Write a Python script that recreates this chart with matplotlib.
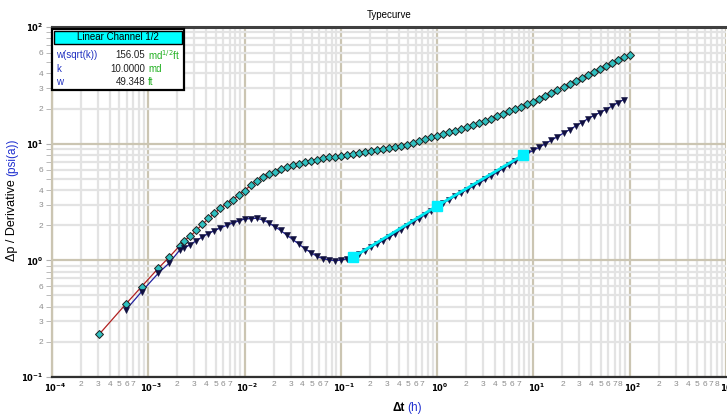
# -*- coding: utf-8 -*-
"""
Typecurve plot - pressure change and derivative vs elapsed time
with linear channel (half slope) fit line
"""
import numpy as np
import matplotlib.pyplot as plt
from matplotlib.patches import Rectangle
from matplotlib.ticker import FixedLocator, FuncFormatter
from matplotlib.transforms import ScaledTranslation

plt.rcParams['font.family'] = ['Liberation Sans', 'DejaVu Sans']

# =============================================================================
# data
# =============================================================================
# pressure change (delta p), psi(a)
dt_p = [3.10e-4, 5.86e-4, 8.53e-4, 1.27e-3, 1.64e-3, 2.13e-3,
        2.371e-3, 2.738e-3, 3.162e-3, 3.652e-3, 4.217e-3, 4.870e-3,
        5.623e-3, 6.494e-3, 7.499e-3, 8.660e-3,
        1.000e-2, 1.155e-2, 1.334e-2, 1.540e-2, 1.778e-2, 2.054e-2,
        2.371e-2, 2.738e-2, 3.162e-2, 3.652e-2, 4.217e-2, 4.870e-2,
        5.623e-2, 6.494e-2, 7.499e-2, 8.660e-2,
        0.1000, 0.1155, 0.1334, 0.1540, 0.1778, 0.2054, 0.2371, 0.2738,
        0.3162, 0.3652, 0.4217, 0.4870, 0.5623, 0.6494, 0.7499, 0.8660,
        1.000, 1.155, 1.334, 1.540, 1.778, 2.054, 2.371, 2.738,
        3.162, 3.652, 4.217, 4.870, 5.623, 6.494, 7.499, 8.660,
        10.00, 11.55, 13.34, 15.40, 17.78, 20.54, 23.71, 27.38,
        31.62, 36.52, 42.17, 48.70, 56.23, 64.94, 74.99, 86.60, 100.0]
dp = [0.233, 0.423, 0.596, 0.855, 1.06, 1.34,
      1.479, 1.611, 1.811, 2.037, 2.286, 2.529,
      2.799, 3.055, 3.311, 3.614,
      3.963, 4.385, 4.775, 5.129, 5.483, 5.768,
      6.067, 6.295, 6.531, 6.745, 6.950, 7.129,
      7.311, 7.482, 7.621, 7.745,
      7.870, 8.035, 8.185, 8.337, 8.472, 8.590, 8.750, 8.933,
      9.120, 9.333, 9.550, 9.772, 10.14, 10.50, 10.89, 11.35,
      11.70, 12.11, 12.50, 12.94, 13.40, 13.87, 14.39, 14.89,
      15.60, 16.33, 17.10, 17.95, 18.88, 19.77, 20.75, 21.73,
      22.96, 24.32, 25.82, 27.42, 29.04, 30.83, 32.66, 34.59,
      36.64, 38.82, 41.11, 43.55, 46.13, 48.87, 51.76, 54.83, 58.08]

# derivative, psi(a)
dt_d = [5.86e-4, 8.53e-4, 1.27e-3, 1.64e-3, 2.13e-3,
        2.371e-3, 2.738e-3, 3.162e-3, 3.652e-3, 4.217e-3, 4.870e-3,
        5.623e-3, 6.494e-3, 7.499e-3, 8.660e-3,
        1.000e-2, 1.155e-2, 1.334e-2, 1.540e-2, 1.778e-2, 2.054e-2,
        2.371e-2, 2.738e-2, 3.162e-2, 3.652e-2, 4.217e-2, 4.870e-2,
        5.623e-2, 6.494e-2, 7.499e-2, 8.660e-2,
        0.1000, 0.1155, 0.1334, 0.1540, 0.1778, 0.2054, 0.2371, 0.2738,
        0.3162, 0.3652, 0.4217, 0.4870, 0.5623, 0.6494, 0.7499, 0.8660,
        1.000, 1.155, 1.334, 1.540, 1.778, 2.054, 2.371, 2.738,
        3.162, 3.652, 4.217, 4.870, 5.623, 6.494, 7.499, 8.660,
        10.00, 11.55, 13.34, 15.40, 17.78, 20.54, 23.71, 27.38,
        31.62, 36.52, 42.17, 48.70, 56.23, 64.94, 74.99, 86.60]
deriv = [0.376, 0.539, 0.775, 0.944, 1.23,
         1.282, 1.361, 1.476, 1.589, 1.698, 1.799,
         1.897, 1.991, 2.084, 2.173,
         2.259, 2.280, 2.291, 2.223, 2.099, 1.945,
         1.803, 1.648, 1.510, 1.380, 1.262, 1.167,
         1.084, 1.033, 1.009, 0.995,
         1.005, 1.028, 1.064, 1.135, 1.213, 1.294, 1.380, 1.472,
         1.574, 1.694, 1.828, 1.977, 2.128, 2.280, 2.455, 2.655,
         2.871, 3.090, 3.304, 3.540, 3.784, 4.046, 4.325, 4.613,
         4.943, 5.309, 5.702, 6.124, 6.577, 7.079, 7.691, 8.241,
         8.770, 9.333, 10.00, 10.72, 11.48, 12.30, 13.18, 14.13,
         15.17, 16.29, 17.38, 18.41, 19.59, 20.89, 22.39, 23.88]

# linear channel (half slope) line points
dt_fit = [0.133, 0.995, 7.83]
fit = [1.06, 2.92, 8.00]

# box values
box_title = "Linear Channel 1/2"
box_names = ["w(sqrt(k))", "k", "w"]
box_values = ["156.05", "10.0000", "49.348"]
box_units = [r"md$^{1/2}$ft", "md", "ft"]

W, H = 727, 417
fig = plt.figure(figsize=(W / 100, H / 100), dpi=100)


def fx(px):
    return px / W


def fy(py):
    return 1 - py / H


ax = fig.add_axes([fx(52), fy(377), fx(726) - fx(52), fy(27) - fy(377)])
ax.set_xscale('log')
ax.set_yscale('log')
ax.set_xlim(1e-4, 1e3)
ax.set_ylim(1e-1, 1e2)

# grid lines
ax.grid(True, which='minor', color='#e3e3e3', lw=1.6, zorder=0)
ax.grid(True, which='major', color='#cbc5b2', lw=1.6, zorder=0)
ax.set_axisbelow(True)

# spines
ax.spines['top'].set_color('#404040')
ax.spines['top'].set_linewidth(2.2)
ax.spines['bottom'].set_color('#303030')
ax.spines['bottom'].set_linewidth(1.6)
ax.spines['left'].set_color('#cbc5b2')
ax.spines['left'].set_linewidth(1.6)
ax.spines['right'].set_visible(False)

# ticks and labels
xmaj = [10.0 ** e for e in range(-4, 4)]
xmin = [d * 10.0 ** e for e in range(-4, 3) for d in range(2, 10)]
ymaj = [10.0 ** e for e in range(-1, 3)]
ymin = [d * 10.0 ** e for e in range(-1, 2) for d in range(2, 10)]
ax.xaxis.set_major_locator(FixedLocator(xmaj))
ax.xaxis.set_minor_locator(FixedLocator(xmin))
ax.yaxis.set_major_locator(FixedLocator(ymaj))
ax.yaxis.set_minor_locator(FixedLocator(ymin))


def major_fmt(v, pos):
    return r'$\mathbf{10^{%d}}$' % int(round(np.log10(v)))


def xminor_fmt(v, pos):
    e = int(np.floor(np.log10(v) + 1e-9))
    d = int(round(v / 10.0 ** e))
    if d <= 7 or (d == 8 and e >= 1):
        return str(d)
    return ''


def yminor_fmt(v, pos):
    e = int(np.floor(np.log10(v) + 1e-9))
    d = int(round(v / 10.0 ** e))
    return str(d) if d in (2, 3, 4, 6) else ''


ax.xaxis.set_major_formatter(FuncFormatter(major_fmt))
ax.yaxis.set_major_formatter(FuncFormatter(major_fmt))
ax.xaxis.set_minor_formatter(FuncFormatter(xminor_fmt))
ax.yaxis.set_minor_formatter(FuncFormatter(yminor_fmt))
ax.tick_params(which='both', labelsize=6, length=0, pad=3)
ax.tick_params(which='minor', labelcolor='#8c8c8c')
ax.tick_params(axis='y', which='both', length=4, color='#b0b0b0', pad=2)

# shift major x labels so "10" sits on the tick like the reference
shift = ScaledTranslation(3 / 100, 0, fig.dpi_scale_trans)
for lab in ax.xaxis.get_majorticklabels():
    lab.set_transform(lab.get_transform() + shift)

# curves
ax.plot(dt_p, dp, color='#b02020', lw=0.9, zorder=3)
ax.plot(dt_p, dp, ls='none', marker='D', ms=4.0, mfc='#30c0c0',
        mec='#202020', mew=0.7, zorder=4)
ax.plot(dt_d, deriv, color='#2020a0', lw=0.9, zorder=3)
ax.plot(dt_d, deriv, ls='none', marker='v', ms=4.0, mfc='#101040',
        mec='#101040', mew=0.4, zorder=4)
ax.plot(dt_fit, fit, color='#00e8f0', lw=2.0, zorder=5)
ax.plot(dt_fit, fit, ls='none', marker='s', ms=6.5, mfc='#00f0ff',
        mec='#00f0ff', zorder=6)

# title and axis labels
fig.text(fx(389), fy(15), "Typecurve", fontsize=7, ha='center', va='center')
fig.text(fx(12), fy(176), u"\u0394p / Derivative ", rotation=90,
         fontsize=9, ha='center', va='top')
fig.text(fx(12), fy(176), "(psi(a))", rotation=90, fontsize=8.5,
         color='#2030d0', ha='center', va='bottom')
fig.text(fx(405), fy(408), u"\u0394t", fontsize=8.5, fontweight='bold',
         ha='right', va='center')
fig.text(fx(407), fy(408), "(h)", fontsize=8.5, color='#2030d0',
         ha='left', va='center')

# info box
fig.patches.append(Rectangle((fx(52), fy(90)), fx(184) - fx(52),
                             fy(29) - fy(90), transform=fig.transFigure,
                             facecolor='white', edgecolor='black', lw=1.6,
                             zorder=10))
fig.patches.append(Rectangle((fx(54), fy(44)), fx(182) - fx(54),
                             fy(31) - fy(44), transform=fig.transFigure,
                             facecolor='#00ffff', edgecolor='black', lw=1.0,
                             zorder=11))
fig.text(fx(118), fy(37.5), box_title, fontsize=7, ha='center', va='center',
         zorder=12)
for i in range(3):
    yy = fy(55 + i * 13.5)
    fig.text(fx(56), yy, box_names[i], fontsize=7, color='#2030c0',
             ha='left', va='center', zorder=12)
    fig.text(fx(145), yy, box_values[i], fontsize=7, color='#202020',
             ha='right', va='center', zorder=12)
    fig.text(fx(148), yy, box_units[i], fontsize=7, color='#20b020',
             ha='left', va='center', zorder=12)

plt.savefig('out.png', dpi=100)
